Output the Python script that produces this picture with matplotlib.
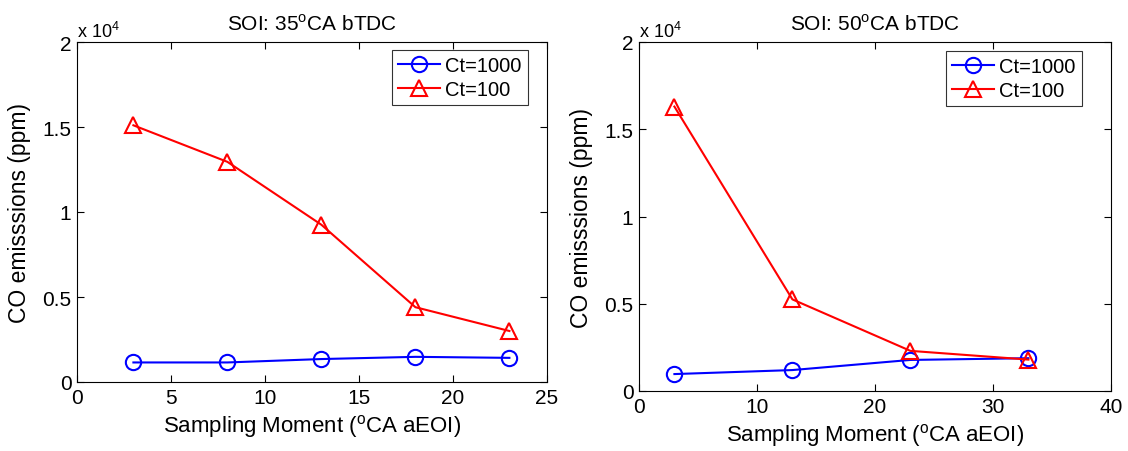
import matplotlib
matplotlib.use("Agg")
import matplotlib.pyplot as plt
from matplotlib.ticker import FuncFormatter

plt.rcParams['font.family'] = ['Liberation Sans', 'DejaVu Sans']

# SOI 35 CA bTDC
x35 = [3, 8, 13, 18, 23]
ct1000_35 = [1150, 1150, 1350, 1480, 1420]
ct100_35 = [15100, 12950, 9250, 4400, 3000]

# SOI 50 CA bTDC
x50 = [3, 13, 23, 33]
ct1000_50 = [970, 1200, 1780, 1880]
ct100_50 = [16300, 5250, 2300, 1800]

titles = ['SOI: 35$^{\\mathregular{o}}$CA bTDC', 'SOI: 50$^{\\mathregular{o}}$CA bTDC']
xlims = [(0, 25), (0, 40)]
xticks = [[0, 5, 10, 15, 20, 25], [0, 10, 20, 30, 40]]
yticks = [0, 5000, 10000, 15000, 20000]

W, H = 1128, 452
fig = plt.figure(figsize=(W / 100, H / 100), dpi=100)
rects = [[77 / W, (H - 383) / H, 470 / W, 340 / H],
         [639 / W, (H - 392) / H, 472 / W, 349 / H]]
leg_anchor = [(0.670, 0.977), (0.650, 0.975)]
data = [(x35, ct1000_35, ct100_35), (x50, ct1000_50, ct100_50)]

fmt = FuncFormatter(lambda v, p: ('%g' % (v / 1e4)))

for i, (rect, (xs, blue, red)) in enumerate(zip(rects, data)):
    ax = fig.add_axes(rect)
    ax.plot(xs, blue, color='#0000ff', lw=1.5, marker='o', ms=11, mfc='none',
            mew=1.5, label='Ct=1000')
    ax.plot(xs, red, color='#ff0000', lw=1.5, marker='^', ms=11, mfc='none',
            mew=1.5, label='Ct=100')
    ax.set_xlim(*xlims[i])
    ax.set_ylim(0, 20000)
    ax.set_xticks(xticks[i])
    ax.set_yticks(yticks)
    ax.yaxis.set_major_formatter(fmt)
    ax.tick_params(direction='in', top=True, right=True, labelsize=15,
                   length=5, width=0.8, pad=4)
    for s in ax.spines.values():
        s.set_linewidth(0.8)
    ax.set_title(titles[i], fontsize=15, pad=9)
    ax.set_xlabel('Sampling Moment ($^{\\mathregular{o}}$CA aEOI)', fontsize=16, labelpad=4)
    ax.set_ylabel('CO emisssions (ppm)', fontsize=16.5, labelpad=8)
    ax.text(0.0, 1.004, 'x 10$^{\\mathregular{4}}$', transform=ax.transAxes,
            fontsize=13, ha='left', va='bottom')
    leg = ax.legend(loc='upper left', bbox_to_anchor=leg_anchor[i], fontsize=14.5,
                    frameon=True, fancybox=False, edgecolor='black',
                    borderaxespad=0.0, handlelength=2.1, handletextpad=0.25,
                    borderpad=0.3, labelspacing=0.25)
    leg.get_frame().set_linewidth(0.8)

fig.savefig('out.png', dpi=100)
